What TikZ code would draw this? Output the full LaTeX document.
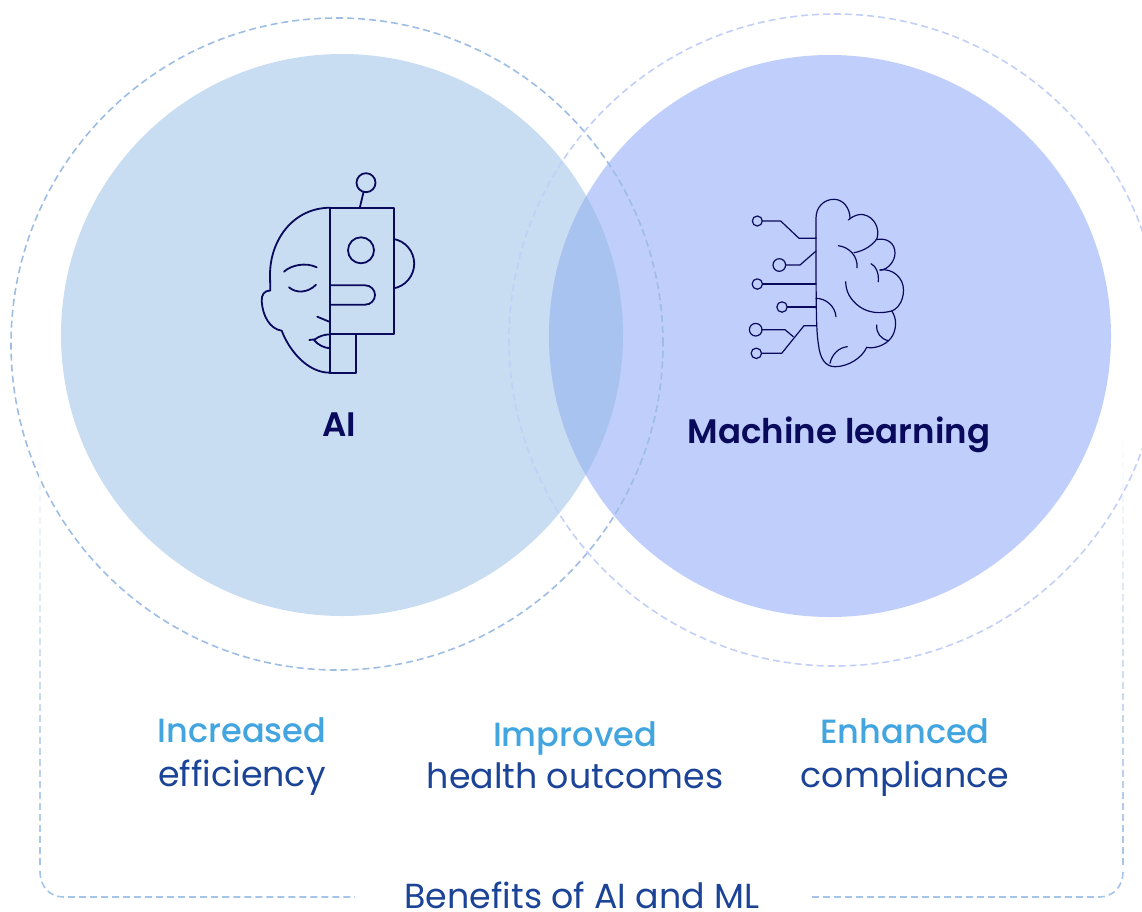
\documentclass[tikz,border=0pt]{standalone}
\usepackage{fontspec}
\setmainfont{Poppins}
\newfontfamily\headfont{Poppins Medium}
\newfontfamily\titlefont{Poppins SemiBold}
\definecolor{aifill}{HTML}{C8DCF2}
\definecolor{mlfill}{HTML}{C0CEFB}
\definecolor{overlapfill}{HTML}{A9C3F0}
\definecolor{aidash}{HTML}{9DBDE4}
\definecolor{mldash}{HTML}{C2D0F8}
\definecolor{navy}{HTML}{0A0A5C}
\definecolor{headblue}{HTML}{42A5DF}
\definecolor{bodyblue}{HTML}{1B4397}
\definecolor{framec}{HTML}{A5C4E8}
\tikzset{
  x=1pt,y=-1pt,
  disc/.style={circle,inner sep=0pt,minimum size=562pt},
  ring/.style={circle,inner sep=0pt,minimum size=652pt,draw,line width=1.6pt,dash pattern=on 7pt off 4pt},
  icon/.style={draw=navy,line width=1.8pt,line cap=round,line join=round},
  brainline/.style={draw=navy,line width=1.2pt,line cap=round,line join=round},
  title/.style={font=\titlefont\fontsize{34}{34}\selectfont,text=navy,inner sep=0pt,anchor=base},
  head/.style={font=\headfont\fontsize{33.6}{34}\selectfont,text=headblue,inner sep=0pt,anchor=base},
  body/.style={font=\fontsize{34.8}{35}\selectfont,text=bodyblue,inner sep=0pt,anchor=base},
  frame/.style={draw=framec,line width=1.6pt,dash pattern=on 7pt off 4pt},
}
\begin{document}
\begin{tikzpicture}
\useasboundingbox (0,0) rectangle (1142,911);
% discs
\node[disc,fill=aifill] (ai) at (342,335) {};
\node[disc,fill=mlfill] (ml) at (830,336) {};
\begin{scope}
  \clip (342,335) circle (281pt);
  \fill[overlapfill] (830,336) circle (281pt);
\end{scope}
% dashed rings
\begin{scope}
  \clip (0,0) rectangle (1142,911);
  \node[ring,draw=aidash] (airing) at (337,344) {};
  \node[ring,draw=mldash] (mlring) at (835,340) {};
\end{scope}
% frame
\foreach \yy in {440,451,...,860}{
  \pgfmathsetmacro{\pct}{min(100,max(4,(\yy-430)/4.3))}
  \draw[draw=framec!\pct!white,line width=1.6pt] (40,\yy) -- (40,\yy+7);
  \draw[draw=framec!\pct!white,line width=1.6pt] (1123,\yy) -- (1123,\yy+7);
}
\draw[frame] (40,871) .. controls (40,887) and (50,897) .. (64,897) -- (355,897);
\draw[frame] (812,897) -- (1099,897) .. controls (1113,897) and (1123,887) .. (1123,871);
% robot
\draw[icon] (330,207.7) rectangle (393.7,334.3);
\draw[icon] (330,334.3) -- (330,372.7) -- (356,372.7) -- (356,334.3);
\draw[icon] (366,182.7) circle (9.5pt);
\draw[icon] (363.6,191.8) -- (359.8,207.7);
\draw[icon] (361,250.3) circle (13pt);
\draw[icon] (393.7,239) .. controls (405,241) and (414.2,251) .. (414.2,263.7) .. controls (414.2,276) and (405,286.5) .. (393.7,288.3);
\draw[icon] (330,285.3) -- (365,285.3) .. controls (371,285.3) and (375,290) .. (375,295) .. controls (375,300) and (371,304.7) .. (365,304.7) -- (330,304.7);
\draw[icon] (330,207.7) .. controls (293,208) and (270,240) .. (270,275) -- (270.3,290.5) .. controls (264,290.5) and (261.5,295) .. (261.7,301) .. controls (262.5,316) and (270,329) .. (281.7,330.7) .. controls (289,350) and (307,372.7) .. (330,372.7);
\draw[icon] (284,271.7) .. controls (291,265) and (306,262) .. (316.7,267.3);
\draw[icon] (289,287.3) .. controls (296,293.5) and (308,293) .. (316,284.7);
\draw[icon] (317.3,316.7) -- (329.3,321.7);
\draw[icon] (309.3,340) -- (315,339.3) .. controls (319,336) and (325,334.5) .. (330,334.3);
\draw[icon] (314,340) .. controls (318,345) and (324,347.8) .. (330,348.3);
% brain
\draw[brainline] (816,238) -- (816,218) .. controls (816,207) and (824,199.3) .. (834,199.3) .. controls (843,199.3) and (850,208) .. (850,218.3);
\draw[brainline] (848.3,220) .. controls (853,215.5) and (860,213.5) .. (864,214.8) .. controls (874,217) and (880,228) .. (877,238.5) .. controls (873,245) and (864,251) .. (854,252.7);
\draw[brainline] (877,239.5) .. controls (888,237.5) and (895,244) .. (895,253) .. controls (895,261) and (888,270) .. (880,270);
\draw[brainline] (880,270) .. controls (893,268) and (903.5,278) .. (903.5,290) .. controls (903.5,302) and (897,309) .. (891.7,311) .. controls (880,314) and (869,313) .. (860,307) .. controls (850,300) and (845.7,291) .. (845.7,281.7);
\draw[brainline] (891.7,311) .. controls (897,318) and (897,330) .. (891,338) .. controls (885,346) and (873,349) .. (866.7,347.3) .. controls (862,358) and (848,366.7) .. (835,366.7) .. controls (825,366.7) and (820,358) .. (818.5,345) .. controls (816.5,332) and (816,320) .. (816,238);
\draw[brainline] (838.3,245.7) .. controls (849,247) and (858,256) .. (857,267.7);
\draw[brainline] (871,263.7) .. controls (876,266) and (879,273) .. (878.3,281.7);
\draw[brainline] (816,298.3) .. controls (826,298.5) and (835,306) .. (836,316.7);
\draw[brainline] (876.7,325) .. controls (876,333) and (881,339) .. (888.3,340.7);
\draw[brainline] (847.3,346.7) .. controls (839,347.5) and (832,354) .. (830,363.3);
\draw[brainline] (757.3,221) circle (5pt);
\draw[brainline] (762.3,221) -- (780.7,221) -- (799,238.3) -- (816,238.3);
\draw[brainline] (779.3,265) circle (6.3pt);
\draw[brainline] (785.6,265) -- (800,265) -- (816,251);
\draw[brainline] (757.3,284) circle (5.2pt);
\draw[brainline] (762.5,284) -- (816,284);
\draw[brainline] (782,307) circle (5.2pt);
\draw[brainline] (787.2,307) -- (816,307);
\draw[brainline] (755.7,329.7) circle (6.3pt);
\draw[brainline] (762,329.7) -- (785,329.7) -- (793.3,336.7);
\draw[brainline] (756.3,353.3) circle (5.2pt);
\draw[brainline] (761.5,353.3) -- (781.7,353.3) -- (804,325.7) -- (816,325.7);
% texts
\node[title] (t1) at (339,436) {AI};
\node[title] (t2) at (839,443) {Machine learning};
\node[head] (h1) at (242,742) {Increased};
\node[body] (b1) at (242,786) {efficiency};
\node[head] (h2) at (575,746) {Improved};
\node[body] (b2) at (575,788.5) {health outcomes};
\node[head] (h3) at (905,743) {Enhanced};
\node[body] (b3) at (905,787) {compliance};
\node[body] (b4) at (582,908) {Benefits of AI and ML};
\end{tikzpicture}
\end{document}
